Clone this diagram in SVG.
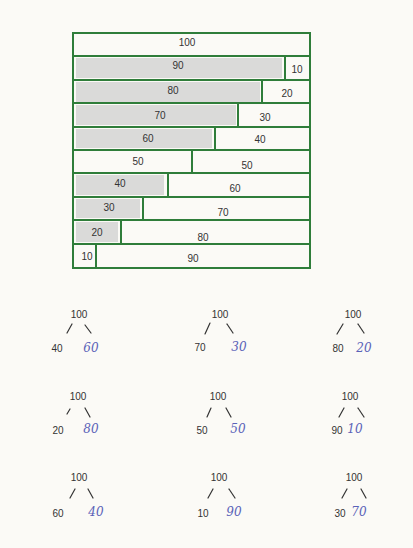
<svg xmlns="http://www.w3.org/2000/svg" width="413" height="548" viewBox="0 0 413 548">
<style>
.bar{fill:none;stroke:#2f7d3a;stroke-width:2}
.div{stroke:#2f7d3a;stroke-width:2}
.t{font-family:"Liberation Sans",Arial,sans-serif;font-size:10px;fill:#333;text-anchor:middle}
.a{font-family:"DejaVu Serif","Liberation Serif",serif;font-style:italic;font-size:12px;fill:#5a62b8;text-anchor:middle}
.sh{fill:#cfcfcf;opacity:0.75}
.c{stroke:#333;stroke-width:1.2;stroke-linecap:round}
</style>
<rect width="413" height="548" fill="#fbfaf6"/>
<g id="shading">
<rect class="sh" x="76" y="58" width="206" height="20" opacity="0.45"/>
<rect class="sh" x="76" y="82" width="184" height="20" opacity="0.55"/>
<rect class="sh" x="76" y="105" width="160" height="20"/>
<rect class="sh" x="76" y="129" width="136" height="19" opacity="0.6"/>
<rect class="sh" x="76" y="175" width="88" height="20"/>
<rect class="sh" x="76" y="199" width="64" height="19" opacity="0.25"/>
<rect class="sh" x="76" y="222" width="42" height="20" opacity="0.85"/>
</g>
<g id="bars">
<rect class="bar" x="73" y="33" width="237" height="235"/>
<line class="div" x1="73" y1="56" x2="310" y2="56"/>
<line class="div" x1="73" y1="80" x2="310" y2="80"/>
<line class="div" x1="73" y1="103" x2="310" y2="103"/>
<line class="div" x1="73" y1="127" x2="310" y2="127"/>
<line class="div" x1="73" y1="150" x2="310" y2="150"/>
<line class="div" x1="73" y1="173" x2="310" y2="173"/>
<line class="div" x1="73" y1="197" x2="310" y2="197"/>
<line class="div" x1="73" y1="220" x2="310" y2="220"/>
<line class="div" x1="73" y1="244" x2="310" y2="244"/>
<line class="div" x1="285" y1="56" x2="285" y2="80"/>
<line class="div" x1="262" y1="80" x2="262" y2="103"/>
<line class="div" x1="238" y1="103" x2="238" y2="127"/>
<line class="div" x1="215" y1="127" x2="215" y2="150"/>
<line class="div" x1="192" y1="150" x2="192" y2="173"/>
<line class="div" x1="168" y1="173" x2="168" y2="197"/>
<line class="div" x1="143" y1="197" x2="143" y2="220"/>
<line class="div" x1="121" y1="220" x2="121" y2="244"/>
<line class="div" x1="96" y1="244" x2="96" y2="268"/>
</g>
<g id="bar-labels">
<text class="t" x="187" y="46">100</text>
<text class="t" x="178" y="69">90</text>
<text class="t" x="297" y="73">10</text>
<text class="t" x="173" y="94">80</text>
<text class="t" x="287" y="97">20</text>
<text class="t" x="160" y="119">70</text>
<text class="t" x="265" y="121">30</text>
<text class="t" x="148" y="142">60</text>
<text class="t" x="260" y="143">40</text>
<text class="t" x="138" y="165">50</text>
<text class="t" x="247" y="169">50</text>
<text class="t" x="120" y="187">40</text>
<text class="t" x="235" y="192">60</text>
<text class="t" x="109" y="211">30</text>
<text class="t" x="223" y="216">70</text>
<text class="t" x="97" y="236">20</text>
<text class="t" x="203" y="241">80</text>
<text class="t" x="87" y="260">10</text>
<text class="t" x="193" y="262">90</text>
</g>
<g id="connectors">
<line class="c" x1="72" y1="324" x2="67" y2="333"/>
<line class="c" x1="85" y1="325" x2="91" y2="333"/>
<line class="c" x1="210" y1="323" x2="205" y2="334"/>
<line class="c" x1="227" y1="324" x2="233" y2="333"/>
<line class="c" x1="343" y1="324" x2="337" y2="334"/>
<line class="c" x1="358" y1="324" x2="364" y2="333"/>
<line class="c" x1="70" y1="409" x2="67" y2="414"/>
<line class="c" x1="85" y1="408" x2="90" y2="417"/>
<line class="c" x1="211" y1="408" x2="207" y2="417"/>
<line class="c" x1="226" y1="408" x2="231" y2="417"/>
<line class="c" x1="344" y1="408" x2="339" y2="417"/>
<line class="c" x1="358" y1="408" x2="364" y2="417"/>
<line class="c" x1="75" y1="489" x2="70" y2="498"/>
<line class="c" x1="88" y1="489" x2="93" y2="498"/>
<line class="c" x1="213" y1="489" x2="208" y2="498"/>
<line class="c" x1="229" y1="489" x2="235" y2="498"/>
<line class="c" x1="347" y1="489" x2="342" y2="498"/>
<line class="c" x1="361" y1="489" x2="366" y2="498"/>
</g>
<g id="tree1"><text class="t" x="79" y="318">100</text><text class="t" x="57" y="352">40</text><text class="a" x="91" y="352">60</text></g>
<g id="tree2"><text class="t" x="220" y="318">100</text><text class="t" x="200" y="351">70</text><text class="a" x="239" y="351">30</text></g>
<g id="tree3"><text class="t" x="353" y="318">100</text><text class="t" x="338" y="352">80</text><text class="a" x="364" y="352">20</text></g>
<g id="tree4"><text class="t" x="78" y="400">100</text><text class="t" x="58" y="434">20</text><text class="a" x="91" y="433">80</text></g>
<g id="tree5"><text class="t" x="218" y="400">100</text><text class="t" x="202" y="434">50</text><text class="a" x="238" y="433">50</text></g>
<g id="tree6"><text class="t" x="350" y="400">100</text><text class="t" x="337" y="434">90</text><text class="a" x="355" y="433">10</text></g>
<g id="tree7"><text class="t" x="79" y="481">100</text><text class="t" x="58" y="517">60</text><text class="a" x="96" y="516">40</text></g>
<g id="tree8"><text class="t" x="219" y="481">100</text><text class="t" x="203" y="517">10</text><text class="a" x="234" y="516">90</text></g>
<g id="tree9"><text class="t" x="354" y="481">100</text><text class="t" x="340" y="517">30</text><text class="a" x="359" y="516">70</text></g>
</svg>
